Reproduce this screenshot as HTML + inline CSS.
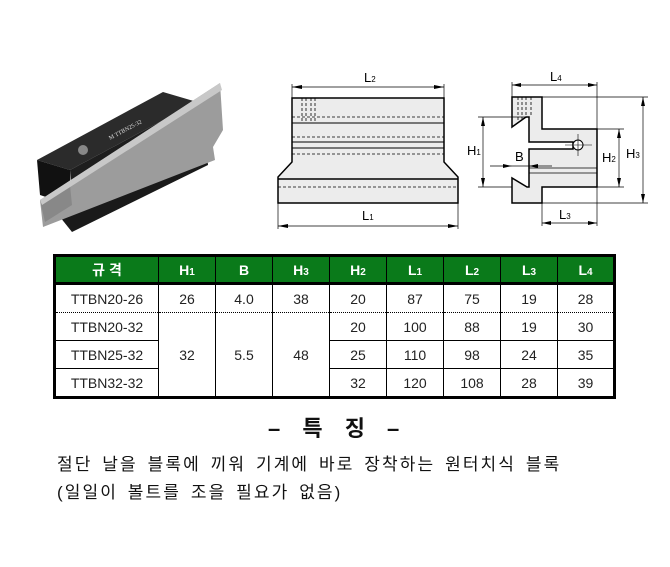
<!DOCTYPE html>
<html><head><meta charset="utf-8"><style>
body{margin:0;width:670px;height:567px;background:#fff;position:relative;overflow:hidden;font-family:"Liberation Sans","Noto Sans CJK KR",sans-serif}
table{position:absolute;left:53px;top:254px;border-collapse:collapse;border:3px solid #000;table-layout:fixed;width:562px}
td,th{padding:0;text-align:center;font-size:14px;color:#222;border-left:1px solid #000}
th{background:#0a7a1a;color:#fff;height:25px;font-weight:bold;border-bottom:3px solid #000;font-size:14px}
td{height:27px;border-top:1px solid #000}
tr.r1 td{border-top:none}
tr.r2 td{border-top:1px dotted #000}
small{font-size:10px}
.t{position:absolute;color:#111}
</style></head><body>
<svg width="670" height="250" style="position:absolute;left:0;top:0" xmlns="http://www.w3.org/2000/svg">
<!-- photo -->
<polygon points="60,217 205,137 208,165 72,232" fill="#1a1a1a"/>
<polygon points="37,160 163,92 197,102 70,170" fill="#2b2b2b"/>
<polygon points="37,160 70,170 70,205 40,195" fill="#111"/>
<polygon points="70,170 197,102 199,135 72,205" fill="#1e1e1e"/>
<polygon points="40,200 220,83 223,130 213,147 215,160 43,227" fill="#9c9c9c"/>
<polygon points="40,200 70,185 72,205 45,222" fill="#888"/>
<polygon points="40,200 220,83 222,90 42,205" fill="#c8c8c8"/>
<circle cx="83" cy="150" r="5" fill="#888"/>
<text x="110" y="140" font-size="6" fill="#ddd" transform="rotate(-28 110 140)" font-family="Liberation Serif">M TTBN25-32</text>
<!-- front view -->
<g stroke="#000" fill="none">
<path d="M292,98 H444 V162 L458,177 V203 H278 V177 L292,162 Z" fill="#ececec" stroke-width="1.5"/>
<line x1="292" y1="123" x2="444" y2="123"/><line x1="292" y1="142" x2="444" y2="142"/>
<line x1="292" y1="148" x2="444" y2="148"/><line x1="278" y1="179" x2="458" y2="179" stroke-width="1.5"/>
<g stroke-dasharray="3,2" stroke-width="0.8">
<line x1="292" y1="117" x2="444" y2="117"/><line x1="292" y1="137" x2="444" y2="137"/>
<line x1="292" y1="154" x2="444" y2="154"/><line x1="278" y1="187" x2="458" y2="187"/>
<line x1="302" y1="98" x2="302" y2="122"/><line x1="306" y1="98" x2="306" y2="122"/><line x1="311" y1="98" x2="311" y2="122"/><line x1="315" y1="98" x2="315" y2="122"/>
</g>
<line x1="292" y1="84" x2="292" y2="98" stroke-width="0.7"/><line x1="444" y1="84" x2="444" y2="98" stroke-width="0.7"/>
<line x1="292" y1="87" x2="444" y2="87" stroke-width="0.8"/>
<line x1="278" y1="203" x2="278" y2="229" stroke-width="0.7"/><line x1="458" y1="203" x2="458" y2="229" stroke-width="0.7"/>
<line x1="278" y1="226" x2="458" y2="226" stroke-width="0.8"/>
</g>
<g fill="#000"><polygon points="292,87 302,85 302,89"/><polygon points="444,87 434,85 434,89"/>
<polygon points="278,226 288,224 288,228"/><polygon points="458,226 448,224 448,228"/></g>
<!-- side view -->
<g stroke="#000" fill="none">
<polygon points="512,97 542,97 542,129 597,129 597,187 542,187 542,203 512,203 512,178 527,187 529,187 529,149 573,149 573,142 529,142 529,117 526,117 512,127" fill="#ececec" stroke-width="1.5" stroke-linejoin="miter"/>
<path d="M529,168 H597 M529,173 H597" stroke-width="0.8"/>
<g stroke-dasharray="3,2" stroke-width="0.8"><line x1="518" y1="97" x2="518" y2="123"/><line x1="522" y1="97" x2="522" y2="121"/><line x1="526" y1="97" x2="526" y2="118"/><line x1="531" y1="97" x2="531" y2="117"/></g>
<circle cx="578" cy="145" r="5" fill="#fff"/>
<path d="M565,145 H592 M578,134 V156" stroke-width="0.6"/>
<g stroke-width="0.7">
<line x1="512" y1="82" x2="512" y2="97"/><line x1="597" y1="82" x2="597" y2="129"/>
<line x1="512" y1="85" x2="597" y2="85"/>
<line x1="542" y1="97" x2="648" y2="97"/><line x1="542" y1="203" x2="648" y2="203"/>
<line x1="643" y1="97" x2="643" y2="203"/>
<line x1="597" y1="129" x2="624" y2="129"/><line x1="597" y1="187" x2="624" y2="187"/>
<line x1="619" y1="129" x2="619" y2="187"/>
<line x1="478" y1="117" x2="526" y2="117"/><line x1="478" y1="187" x2="512" y2="187"/>
<line x1="483" y1="117" x2="483" y2="187"/>
<line x1="490" y1="166" x2="552" y2="166"/>
<line x1="542" y1="203" x2="542" y2="226"/><line x1="597" y1="187" x2="597" y2="226"/>
<line x1="542" y1="223" x2="597" y2="223"/>
</g></g>
<g fill="#000">
<polygon points="512,85 521,83 521,87"/><polygon points="597,85 588,83 588,87"/>
<polygon points="643,97 641,106 645,106"/><polygon points="643,203 641,194 645,194"/>
<polygon points="619,129 617,138 621,138"/><polygon points="619,187 617,178 621,178"/>
<polygon points="483,117 481,126 485,126"/><polygon points="483,187 481,178 485,178"/>
<polygon points="512,166 503,164 503,168"/><polygon points="529,166 538,164 538,168"/>
<polygon points="542,223 551,221 551,225"/><polygon points="597,223 588,221 588,225"/>
</g>
<g font-family="Liberation Sans" font-size="13" fill="#000">
<text x="364" y="82">L<tspan font-size="8">2</tspan></text>
<text x="362" y="220">L<tspan font-size="8">1</tspan></text>
<text x="550" y="81">L<tspan font-size="8">4</tspan></text>
<text x="559" y="219">L<tspan font-size="8">3</tspan></text>
<text x="467" y="155">H<tspan font-size="8">1</tspan></text>
<text x="515" y="161">B</text>
<text x="602" y="162">H<tspan font-size="8">2</tspan></text>
<text x="626" y="158">H<tspan font-size="8">3</tspan></text>
</g>
</svg>
<table>
<colgroup><col style="width:104px"><col span="8" style="width:57px"></colgroup>
<tr><th>규 격</th><th>H<small>1</small></th><th>B</th><th>H<small>3</small></th><th>H<small>2</small></th><th>L<small>1</small></th><th>L<small>2</small></th><th>L<small>3</small></th><th>L<small>4</small></th></tr>
<tr class="r1"><td>TTBN20-26</td><td>26</td><td>4.0</td><td>38</td><td>20</td><td>87</td><td>75</td><td>19</td><td>28</td></tr>
<tr class="r2"><td>TTBN20-32</td><td rowspan="3" style="border-top:1px dotted #000">32</td><td rowspan="3" style="border-top:1px dotted #000">5.5</td><td rowspan="3" style="border-top:1px dotted #000">48</td><td>20</td><td>100</td><td>88</td><td>19</td><td>30</td></tr>
<tr><td>TTBN25-32</td><td>25</td><td>110</td><td>98</td><td>24</td><td>35</td></tr>
<tr><td>TTBN32-32</td><td>32</td><td>120</td><td>108</td><td>28</td><td>39</td></tr>
</table>
<div class="t" style="left:268px;top:411px;font-size:22px;font-weight:bold;letter-spacing:8px">– 특 징 –</div>
<div class="t" style="left:57px;top:450px;font-size:17px;letter-spacing:2.1px;word-spacing:3px">절단 날을 블록에 끼워 기계에 바로 장착하는 원터치식 블록</div>
<div class="t" style="left:57px;top:478px;font-size:17px;letter-spacing:2.1px;word-spacing:3px">(일일이 볼트를 조을 필요가 없음)</div>
</body></html>
